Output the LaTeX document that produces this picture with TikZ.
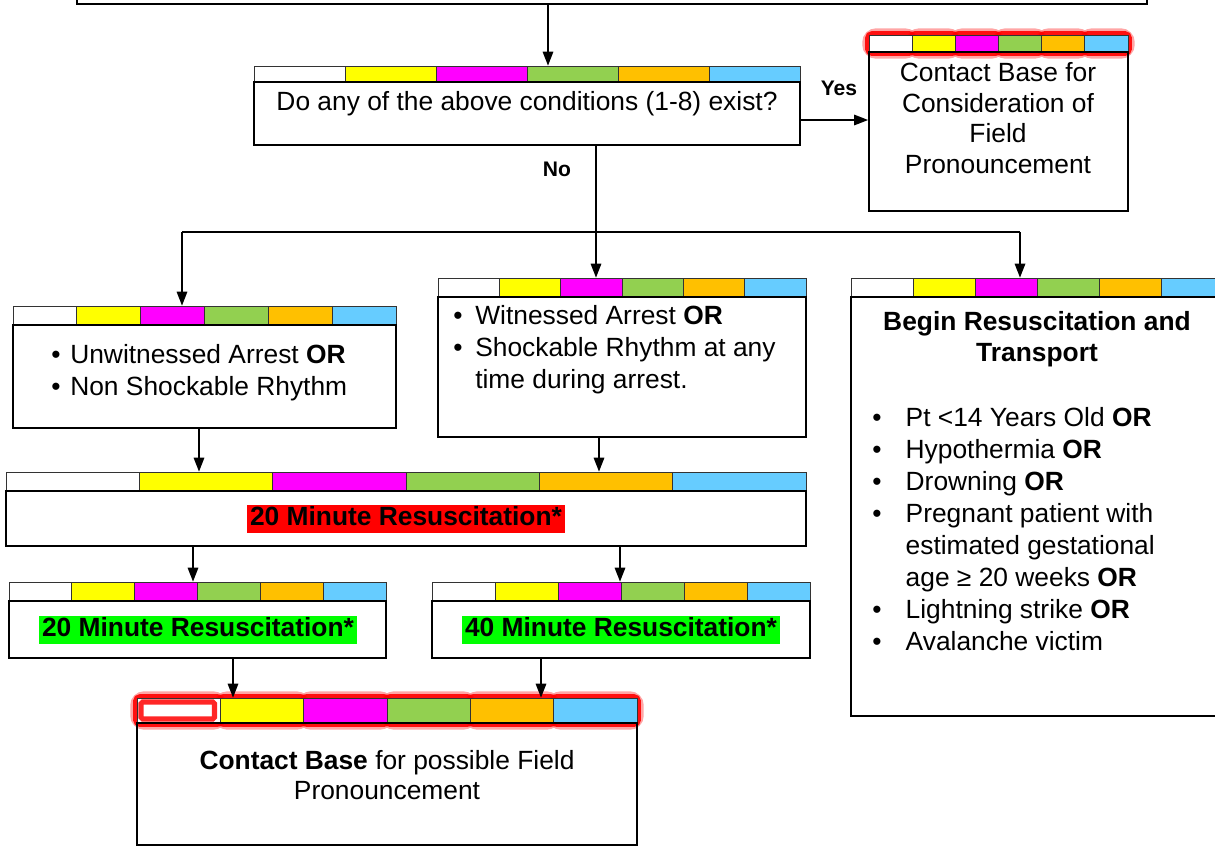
\documentclass[tikz,border=0pt]{standalone}
\usepackage{fontspec}
\setmainfont{Liberation Sans}
\usetikzlibrary{arrows.meta,fit}

\definecolor{barYellow}{HTML}{FFFF00}
\definecolor{barMagenta}{HTML}{FF00FF}
\definecolor{barGreen}{HTML}{92D050}
\definecolor{barOrange}{HTML}{FFC000}
\definecolor{barBlue}{HTML}{66CCFF}
\definecolor{hlRed}{HTML}{FF0000}
\definecolor{hlGreen}{HTML}{00FF00}

\newcommand{\normsize}{\fontsize{15}{17.4}\selectfont}
\newcommand{\listsize}{\fontsize{15}{18.2}\selectfont}
\newcommand{\bul}[1]{\makebox[#1][l]{\textbullet}}

\tikzset{
  boxbody/.style={draw, line width=1pt, inner sep=0pt},
  cell/.style={draw=black!80, line width=0.5pt},
  glowwide/.style={draw=hlRed, line width=7.5pt, opacity=0.35, rounded corners=4pt},
  glownarrow/.style={draw=hlRed, line width=4.5pt, opacity=0.9, rounded corners=2pt},
  arr/.style={-{Triangle[width=6pt,length=8pt]}, line width=0.9pt},
  line/.style={line width=0.9pt},
  txt/.style={align=center, inner sep=0pt, font=\normsize},
  lst/.style={align=left, inner sep=0pt, anchor=west, font=\listsize},
  lbl/.style={inner sep=0pt, font=\fontsize{12}{14}\selectfont\bfseries},
  hilite/.style={inner xsep=2pt, inner ysep=0pt, text height=11.6pt, text depth=4.2pt, font=\normsize\bfseries},
}

% six coloured cells: name, x1, y1, x2, y2
\newcommand{\colorbar}[5]{%
  \foreach \c [count=\i from 0] in {white,barYellow,barMagenta,barGreen,barOrange,barBlue}
    \draw[cell, fill=\c] ({#2+\i*(#4-#2)/6},#3) rectangle ({#2+(\i+1)*(#4-#2)/6},#5);
  \node[fit={(#2,#3) (#4,#5)}, inner sep=0pt] (#1) {};
}
% same, with a red glow round the cells
\newcommand{\glowbar}[5]{%
  \foreach \i in {0,...,5} {
    \draw[glowwide] ({#2+\i*(#4-#2)/6},#3) rectangle ({#2+(\i+1)*(#4-#2)/6},#5);
    \draw[glownarrow] ({#2+\i*(#4-#2)/6},#3) rectangle ({#2+(\i+1)*(#4-#2)/6},#5);
  }
  \colorbar{#1}{#2}{#3}{#4}{#5}
}

\begin{document}
\begin{tikzpicture}[x=0.02cm, y=-0.02cm]
  \useasboundingbox (0,0) rectangle (1215,846);
  \clip (0,0) rectangle (1215,846);

  % top box (cut off)
  \node[boxbody, fit={(77,-40) (1147,4)}] (top) {};

  % question
  \colorbar{qbar}{254}{66}{800}{82}
  \node[boxbody, fit={(254,82) (800,145)}] (q) {};
  \node[txt] (qtxt) at (527,104) {Do any of the above conditions (1-8) exist?};

  % contact base (yes)
  \glowbar{cbabar}{869}{35}{1128}{52}
  \node[boxbody, fit={(869,52) (1128,211)}] (cba) {};
  \node[txt] (cbatxt) at (998,118) {Contact Base for\\Consideration of\\Field\\Pronouncement};

  \node[lbl] (yes) at (839,88) {Yes};
  \node[lbl] (no) at (557,169) {No};

  % unwitnessed
  \colorbar{lbar}{13}{306}{396}{325}
  \node[boxbody, fit={(13,325) (396,428)}] (lb) {};
  \node[lst] (lbtxt) at (51,373) {\bul{10.8pt}Unwitnessed Arrest \textbf{OR}\\
    \bul{10.8pt}Non Shockable Rhythm};

  % witnessed
  \colorbar{mbar}{438}{278}{806}{297}
  \node[boxbody, fit={(438,297) (806,437)}] (mb) {};
  \node[lst] (mbtxt) at (453,350) {\bul{12.5pt}Witnessed Arrest \textbf{OR}\\
    \bul{12.5pt}Shockable Rhythm at any\\
    \hspace*{12.5pt}time during arrest.};

  % begin resuscitation and transport
  \colorbar{rbar}{851}{278}{1223}{297}
  \node[boxbody, fit={(851,297) (1223,716)}] (rb) {};
  \node[txt, font=\normsize\bfseries] (rbhead) at (1037,339) {Begin Resuscitation and\\Transport};
  \node[lst] (rbtxt) at (872,529) {\bul{19pt}Pt <14 Years Old \textbf{OR}\\
    \bul{19pt}Hypothermia \textbf{OR}\\
    \bul{19pt}Drowning \textbf{OR}\\
    \bul{19pt}Pregnant patient with\\
    \hspace*{19pt}estimated gestational\\
    \hspace*{19pt}age ≥ 20 weeks \textbf{OR}\\
    \bul{19pt}Lightning strike \textbf{OR}\\
    \bul{19pt}Avalanche victim};

  % 20 minute (red)
  \colorbar{r20bar}{6}{472}{806}{491}
  \node[boxbody, fit={(6,491) (806,546)}] (r20) {};
  \node[hilite, fill=hlRed] (r20txt) at (406,519) {20 Minute Resuscitation*};

  % 20 minute (green)
  \colorbar{g20bar}{9}{582}{386}{601}
  \node[boxbody, fit={(9,601) (386,658)}] (g20) {};
  \node[hilite, fill=hlGreen] (g20txt) at (198,630) {20 Minute Resuscitation*};

  % 40 minute (green)
  \colorbar{g40bar}{432}{582}{810}{601}
  \node[boxbody, fit={(432,601) (810,658)}] (g40) {};
  \node[hilite, fill=hlGreen] (g40txt) at (621,630) {40 Minute Resuscitation*};

  % contact base (bottom)
  \glowbar{cbbbar}{137}{698}{637}{723}
  \draw[draw=hlRed, line width=3pt, opacity=0.85, rounded corners=1pt] (141,702) rectangle (214.5,719);
  \node[boxbody, fit={(137,723) (637,845)}] (cbb) {};
  \node[txt] (cbbtxt) at (387,775) {\textbf{Contact Base} for possible Field\\Pronouncement};

  % connectors
  \coordinate (a0) at (548,0);
  \draw[arr] (a0 |- top.south) -- (a0 |- qbar.north);

  \coordinate (ya) at (0,120);
  \draw[arr] (q.east |- ya) -- (cba.west |- ya);

  \coordinate (sp) at (596,232);
  \coordinate (jl) at (182,232);
  \coordinate (jr) at (1020,232);
  \draw[line] (q.south -| sp) -- (sp);
  \draw[line] (jl) -- (jr);
  \draw[arr] (jl) -- (jl |- lbar.north);
  \draw[arr] (sp) -- (sp |- mbar.north);
  \draw[arr] (jr) -- (jr |- rbar.north);

  \coordinate (b1) at (199,0);
  \coordinate (b2) at (599,0);
  \draw[arr] (b1 |- lb.south) -- (b1 |- r20bar.north);
  \draw[arr] (b2 |- mb.south) -- (b2 |- r20bar.north);

  \coordinate (c1) at (193,0);
  \coordinate (c2) at (620,0);
  \draw[arr] (c1 |- r20.south) -- (c1 |- g20bar.north);
  \draw[arr] (c2 |- r20.south) -- (c2 |- g40bar.north);

  \coordinate (d1) at (233,0);
  \coordinate (d2) at (541,0);
  \draw[arr] (d1 |- g20.south) -- (d1 |- cbbbar.north);
  \draw[arr] (d2 |- g40.south) -- (d2 |- cbbbar.north);
\end{tikzpicture}
\end{document}
